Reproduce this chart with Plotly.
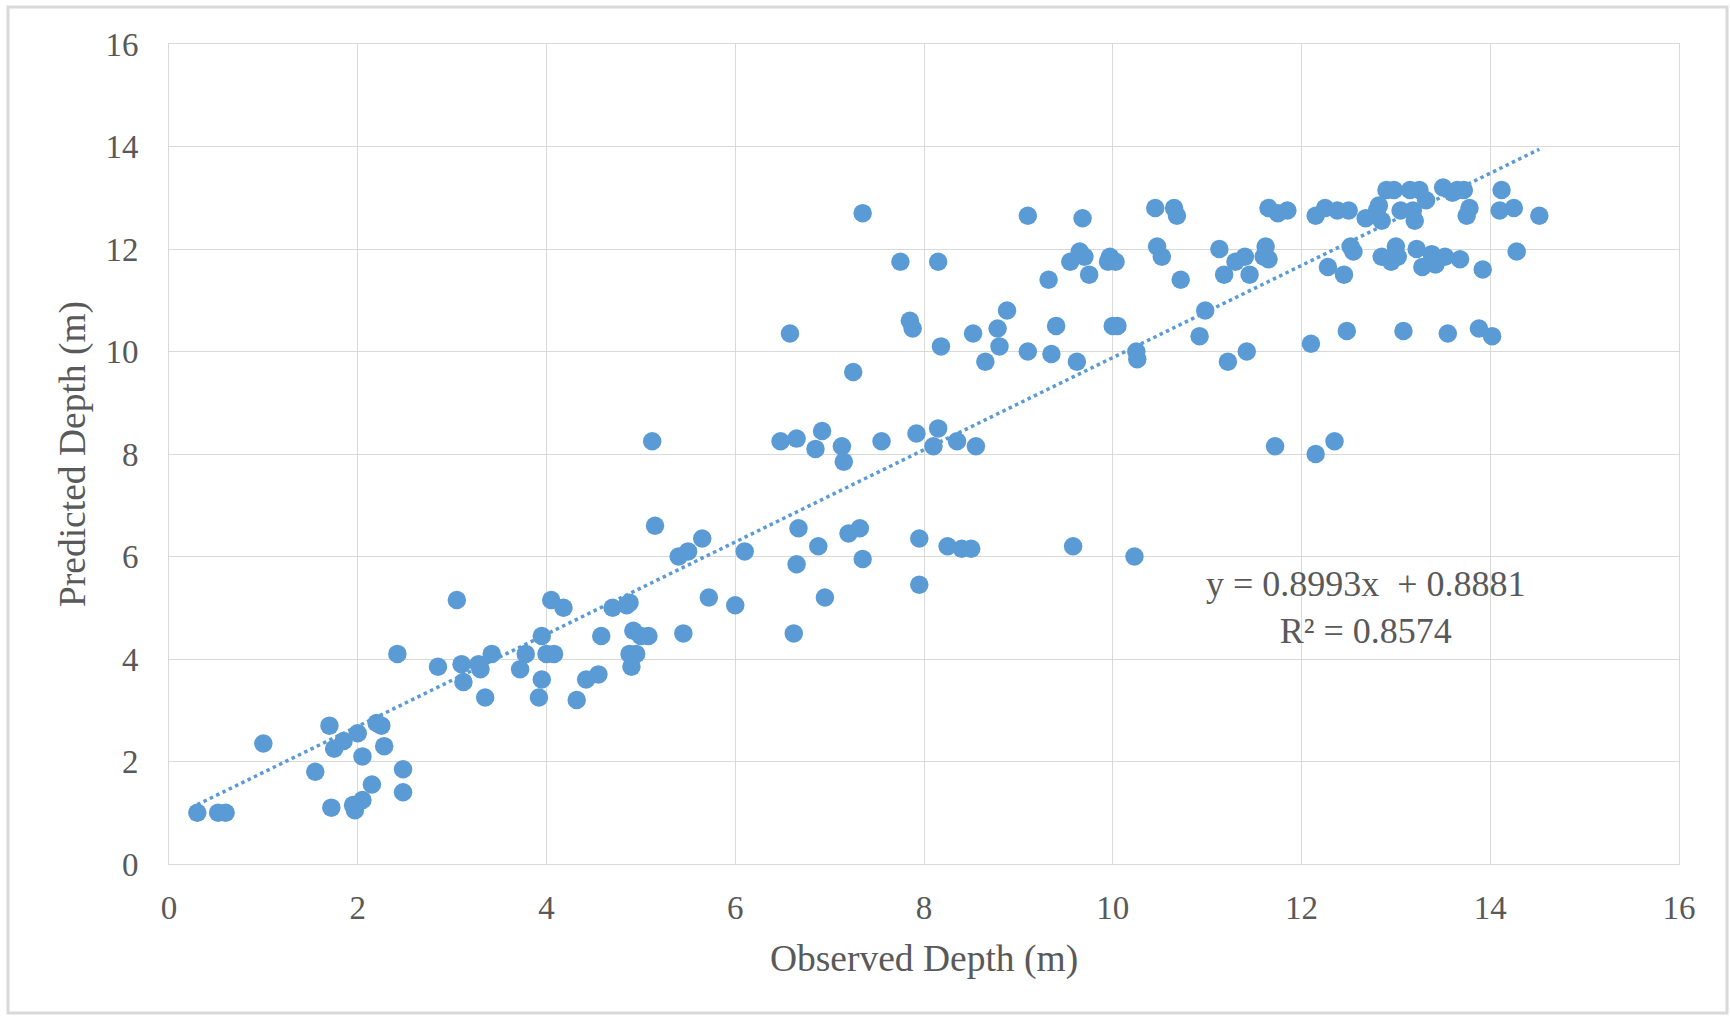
import plotly.graph_objects as go

observed = [0.3, 0.52, 0.6, 1.0, 1.55, 1.7, 1.72, 1.75, 1.85, 1.95, 1.97, 2.0, 2.05, 2.05, 2.15, 2.2, 2.25, 2.28, 2.48, 2.48, 2.42,
            2.85, 3.05, 3.1, 3.12, 3.28, 3.3, 3.35, 3.42, 3.72, 3.78, 3.92, 3.95, 3.95, 4.0, 4.05, 4.08, 4.18, 4.32, 4.42, 4.55,
            4.58, 4.7, 4.85, 4.88, 4.88, 4.9, 4.92, 4.95, 5.0, 5.08, 5.12, 5.15, 5.4, 5.45, 5.5, 5.65, 5.72, 6.0, 6.1, 6.48,
            6.58, 6.62, 6.65, 6.65, 6.67, 6.85, 6.88, 6.92, 6.95, 7.13, 7.15, 7.2, 7.25, 7.32, 7.35, 7.35, 7.55, 7.75, 7.85,
            7.88, 7.92, 7.95, 7.95, 8.1, 8.15, 8.15, 8.18, 8.25, 8.35, 8.4, 8.5, 8.52, 8.55, 8.65, 8.78, 8.8, 8.88, 9.1, 9.1,
            9.32, 9.35, 9.4, 9.55, 9.58, 9.62, 9.65, 9.68, 9.7, 9.75, 9.95, 9.97, 10.0, 10.03, 10.05, 10.23, 10.25, 10.26,
            10.45, 10.47, 10.52, 10.65, 10.68, 10.72, 10.92, 10.98, 11.13, 11.18, 11.22, 11.3, 11.4, 11.42, 11.45, 11.6,
            11.62, 11.65, 11.65, 11.72, 11.75, 11.85, 12.1, 12.15, 12.15, 12.25, 12.28, 12.35, 12.38, 12.45, 12.48, 12.5,
            12.52, 12.55, 12.68, 12.8, 12.82, 12.85, 12.85, 12.9, 12.95, 12.98, 13.0, 13.02, 13.05, 13.08, 13.15, 13.18,
            13.2, 13.22, 13.25, 13.28, 13.32, 13.38, 13.42, 13.5, 13.52, 13.55, 13.6, 13.65, 13.68, 13.72, 13.75, 13.78,
            13.88, 13.92, 14.02, 14.1, 14.12, 14.25, 14.28, 14.52]
predicted = [1.0, 1.0, 1.0, 2.35, 1.8, 2.7, 1.1, 2.25, 2.4, 1.15, 1.05, 2.55, 1.25, 2.1, 1.55, 2.75, 2.7, 2.3, 1.85, 1.4, 4.1,
             3.85, 5.15, 3.9, 3.55, 3.9, 3.8, 3.25, 4.1, 3.8, 4.1, 3.25, 4.45, 3.6, 4.1, 5.15, 4.1, 5.0, 3.2, 3.6, 3.7,
             4.45, 5.0, 5.05, 5.1, 4.1, 3.85, 4.55, 4.1, 4.45, 4.45, 8.25, 6.6, 6.0, 4.5, 6.1, 6.35, 5.2, 5.05, 6.1, 8.25,
             10.35, 4.5, 8.3, 5.85, 6.55, 8.1, 6.2, 8.45, 5.2, 8.15, 7.85, 6.45, 9.6, 6.55, 12.7, 5.95, 8.25, 11.75, 10.6,
             10.45, 8.4, 6.35, 5.45, 8.15, 11.75, 8.5, 10.1, 6.2, 8.25, 6.15, 6.15, 10.35, 8.15, 9.8, 10.45, 10.1, 10.8, 12.65, 10.0,
             11.4, 9.95, 10.5, 11.75, 6.2, 9.8, 11.95, 12.6, 11.85, 11.5, 11.75, 11.85, 10.5, 11.75, 10.5, 6.0, 10.0, 9.85,
             12.8, 12.05, 11.85, 12.8, 12.65, 11.4, 10.3, 10.8, 12.0, 11.5, 9.8, 11.75, 11.85, 10.0, 11.5, 11.85,
             12.05, 11.8, 12.8, 8.15, 12.7, 12.75, 10.15, 8.0, 12.65, 12.8, 11.65, 8.25, 12.75, 11.5, 10.4, 12.75,
             12.05, 11.95, 12.6, 12.75, 12.85, 11.85, 12.55, 13.15, 11.75, 13.15, 12.05, 11.85, 12.75, 10.4, 13.15, 12.75,
             12.55, 12.0, 13.15, 11.65, 12.95, 11.9, 11.7, 13.2, 11.85, 10.35, 13.1, 13.15, 11.8, 13.15, 12.65, 12.8,
             10.45, 11.6, 10.3, 12.75, 13.15, 12.8, 11.95, 12.65]

slope = 0.8993
intercept = 0.8881
r_squared = 0.8574
tick_values = [0, 2, 4, 6, 8, 10, 12, 14, 16]

blue = "#5B9BD5"
grid = "#D9D9D9"
txt = "#595959"
font_family = "Liberation Serif, Times New Roman, serif"

x_min, x_max = min(observed), max(observed)
trend_x = [x_min, x_max]
trend_y = [slope * v + intercept for v in trend_x]

fig = go.Figure()
fig.add_trace(go.Scatter(x=observed, y=predicted, mode="markers",
                         marker=dict(color=blue, size=18.5, line=dict(width=0)),
                         showlegend=False, hoverinfo="x+y"))
fig.add_trace(go.Scatter(x=trend_x, y=trend_y, mode="lines",
                         line=dict(color=blue, width=3.5, dash="dot"),
                         showlegend=False, hoverinfo="skip"))

L, R, T, B = 169, 51, 44, 152
W, H = 1730, 1016
pw, ph = W - L - R, H - T - B

axis_common = dict(range=[0, 16], tickvals=tick_values, showgrid=True, gridcolor=grid, gridwidth=1,
                   zeroline=False, showline=True, linecolor=grid, linewidth=1, mirror=True,
                   ticks="", tickfont=dict(family=font_family, size=33, color=txt))

fig.update_layout(
    width=W, height=H,
    margin=dict(l=L, r=R, t=T, b=B),
    paper_bgcolor="white", plot_bgcolor="white",
    xaxis=dict(**axis_common, ticklabelstandoff=14,
               title=dict(text="Observed Depth (m)", font=dict(family=font_family, size=37.5, color=txt), standoff=20)),
    yaxis=dict(**axis_common, ticklabelstandoff=23,
               title=dict(text="Predicted Depth (m)", font=dict(family=font_family, size=37.5, color=txt), standoff=8)),
    annotations=[dict(xref="x", yref="y", x=12.68, y=5.0, showarrow=False, align="center",
                      text=f"y = {slope}x&nbsp;&nbsp;+ {intercept}<br>R² = {r_squared}",
                      font=dict(family=font_family, size=36, color=txt))],
    shapes=[dict(type="rect", xref="paper", yref="paper",
                 x0=(8 - L) / pw, x1=(W - 3 - L) / pw,
                 y0=(H - B - (H - 3)) / ph, y1=(H - B - 7) / ph,
                 line=dict(color=grid, width=3), fillcolor="rgba(0,0,0,0)", layer="below")],
)

fig.write_html("out.html")
